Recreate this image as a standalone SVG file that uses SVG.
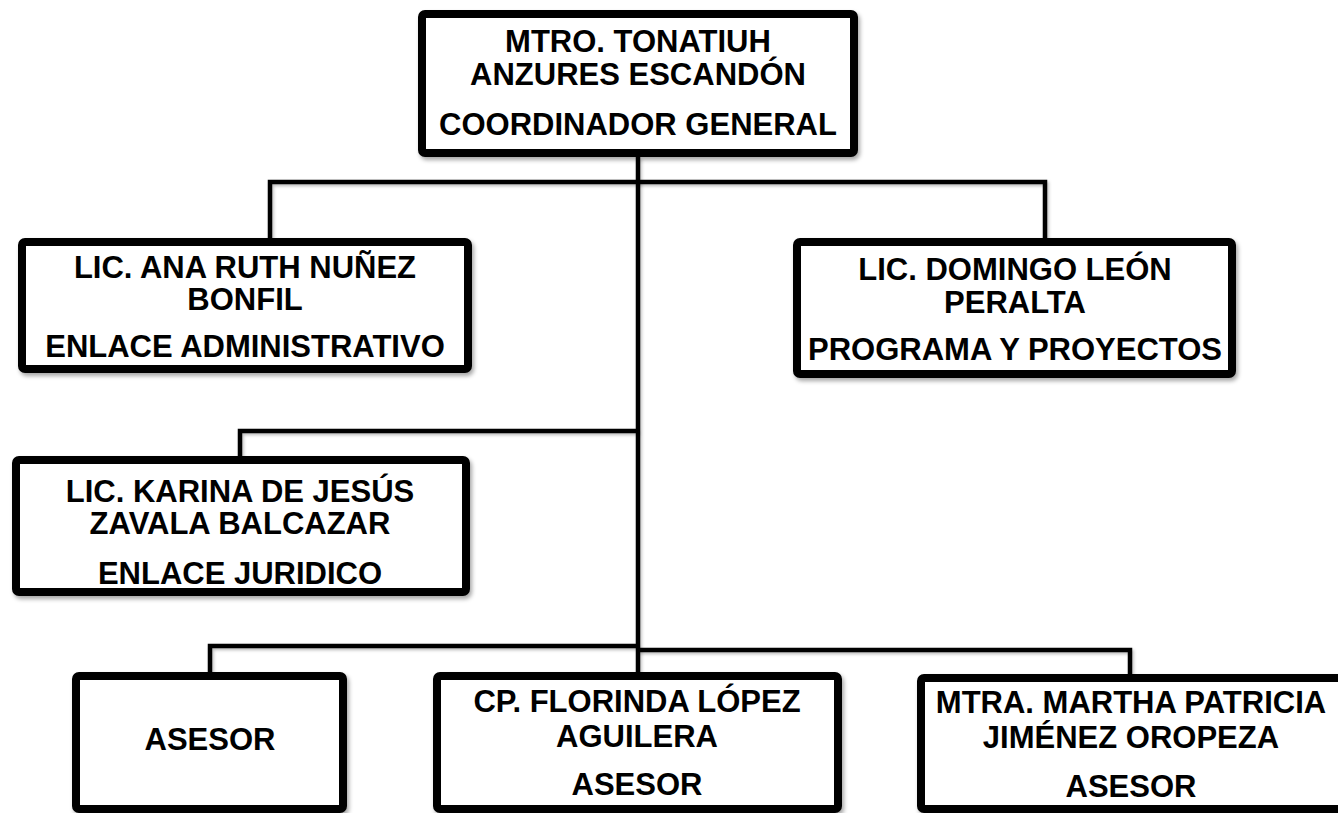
<svg xmlns="http://www.w3.org/2000/svg" width="1338" height="813" viewBox="0 0 1338 813">
<style>
.box{fill:#fff;stroke:#000;stroke-width:8;filter:url(#sh)}
.t{font-family:"Liberation Sans",Arial,sans-serif;font-weight:bold;font-size:31px;fill:#000;text-anchor:middle}
.c{fill:none;stroke:#000;stroke-width:4.5;stroke-linejoin:miter;filter:url(#sh2)}
</style>
<defs>
<filter id="sh" filterUnits="userSpaceOnUse" x="0" y="0" width="1338" height="813">
<feDropShadow dx="2" dy="3" stdDeviation="2" flood-color="#000" flood-opacity="0.35"/>
</filter>
<filter id="sh2" filterUnits="userSpaceOnUse" x="0" y="0" width="1338" height="813">
<feDropShadow dx="1.5" dy="2" stdDeviation="1.5" flood-color="#000" flood-opacity="0.25"/>
</filter>
</defs>
<rect width="1338" height="813" fill="#fff"/>
<g id="connectors">
<path class="c" d="M638,157 V674"/>
<path class="c" d="M270,240 V182 H1045 V240"/>
<path class="c" d="M240,458 V431 H638"/>
<path class="c" d="M210,674 V646 H638"/>
<path class="c" d="M638,650 H1130 V676"/>
</g>
<g id="n-coordinador">
<rect class="box" x="422" y="14" width="432" height="139" rx="3"/>
<text class="t" x="638" y="52">MTRO. TONATIUH</text>
<text class="t" x="638" y="85">ANZURES ESCANDÓN</text>
<text class="t" x="638" y="135">COORDINADOR GENERAL</text>
</g>
<g id="n-ana">
<rect class="box" x="22" y="242" width="446" height="127" rx="3"/>
<text class="t" x="245" y="278">LIC. ANA RUTH NUÑEZ</text>
<text class="t" x="245" y="310">BONFIL</text>
<text class="t" x="245" y="357">ENLACE ADMINISTRATIVO</text>
</g>
<g id="n-domingo">
<rect class="box" x="797" y="242" width="435" height="132" rx="3"/>
<text class="t" x="1015" y="280">LIC. DOMINGO LEÓN</text>
<text class="t" x="1015" y="313">PERALTA</text>
<text class="t" x="1015" y="360">PROGRAMA Y PROYECTOS</text>
</g>
<g id="n-karina">
<rect class="box" x="16" y="460" width="450" height="132" rx="3"/>
<text class="t" x="240" y="502">LIC. KARINA DE JESÚS</text>
<text class="t" x="240" y="534">ZAVALA BALCAZAR</text>
<text class="t" x="240" y="584">ENLACE JURIDICO</text>
</g>
<g id="n-asesor">
<rect class="box" x="76" y="676" width="267" height="133" rx="3"/>
<text class="t" x="210" y="750">ASESOR</text>
</g>
<g id="n-florinda">
<rect class="box" x="437" y="676" width="401" height="133" rx="3"/>
<text class="t" x="637" y="712">CP. FLORINDA LÓPEZ</text>
<text class="t" x="637" y="747">AGUILERA</text>
<text class="t" x="637" y="795">ASESOR</text>
</g>
<g id="n-martha">
<rect class="box" x="921" y="678" width="421" height="131" rx="3"/>
<text class="t" x="1131" y="713">MTRA. MARTHA PATRICIA</text>
<text class="t" x="1131" y="748">JIMÉNEZ OROPEZA</text>
<text class="t" x="1131" y="797">ASESOR</text>
</g>
</svg>
